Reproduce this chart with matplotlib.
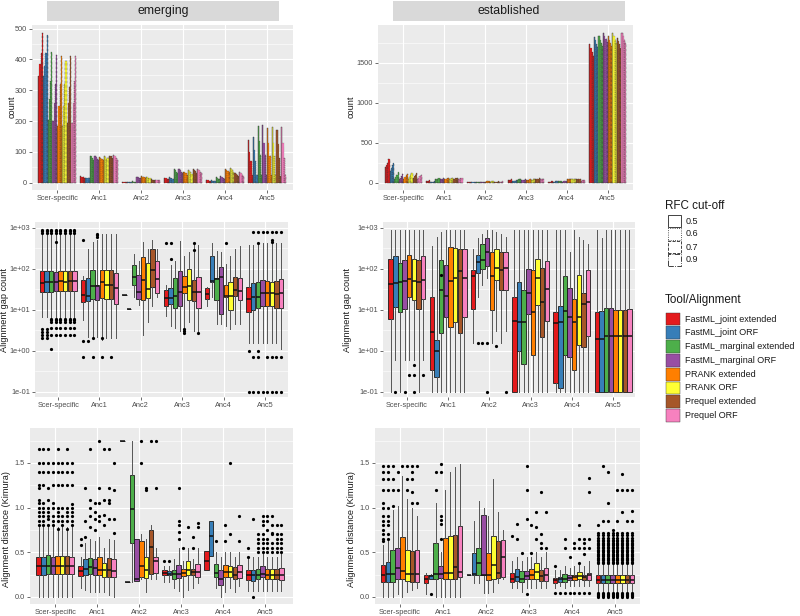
import matplotlib
matplotlib.use('Agg')
import matplotlib.pyplot as plt
from matplotlib.patches import Rectangle
from matplotlib.ticker import NullFormatter

plt.rcParams['font.family'] = ['Liberation Sans', 'DejaVu Sans']

# ---------------- data ----------------
CATEGORIES = ['Scer-specific', 'Anc1', 'Anc2', 'Anc3', 'Anc4', 'Anc5']
TOOLS = ['FastML_joint extended', 'FastML_joint ORF', 'FastML_marginal extended',
         'FastML_marginal ORF', 'PRANK extended', 'PRANK ORF',
         'Prequel extended', 'Prequel ORF']
TOOL_COLORS = ['#E41A1C', '#377EB8', '#4DAF4A', '#984EA3',
               '#FF7F00', '#FFFF33', '#A65628', '#F781BF']
CUTOFFS = ['0.5', '0.6', '0.7', '0.9']
CUTOFF_STYLES = ['-', ':', '--', '-.']
PANELS = ['emerging', 'established']

# counts [category][tool][cutoff]
EM_COUNT = [
    [[345, 385, 420, 485], [345, 380, 420, 480], [205, 270, 330, 425], [200, 260, 320, 415],
     [185, 250, 320, 410], [185, 250, 320, 395], [195, 260, 310, 410], [195, 260, 330, 410]],
    [[20, 18, 17, 16], [16, 15, 15, 14], [88, 85, 80, 75], [88, 82, 78, 72],
     [82, 80, 77, 72], [85, 82, 78, 80], [88, 88, 85, 80], [90, 85, 80, 75]],
    [[2, 2, 1, 1], [3, 2, 2, 2], [4, 3, 3, 3], [18, 17, 15, 14],
     [20, 19, 18, 16], [18, 17, 16, 14], [12, 10, 9, 8], [10, 9, 8, 7]],
    [[15, 14, 13, 12], [18, 16, 15, 13], [44, 40, 35, 30], [44, 40, 36, 32],
     [36, 33, 30, 26], [40, 37, 33, 29], [45, 42, 38, 32], [44, 40, 36, 30]],
    [[8, 7, 6, 5], [7, 6, 5, 4], [17, 15, 13, 11], [22, 18, 15, 12],
     [45, 42, 38, 35], [48, 44, 40, 36], [30, 27, 24, 20], [35, 30, 25, 20]],
    [[140, 100, 70, 25], [147, 105, 70, 25], [185, 135, 90, 25], [186, 130, 90, 25],
     [178, 130, 85, 25], [182, 130, 85, 25], [172, 125, 80, 22], [182, 130, 80, 25]],
]
ES_COUNT = [
    [[190, 220, 250, 290], [140, 180, 220, 245], [50, 75, 100, 130], [40, 60, 85, 105],
     [50, 70, 90, 110], [50, 72, 95, 115], [55, 80, 100, 120], [40, 60, 80, 100]],
    [[20, 22, 25, 30], [8, 10, 12, 15], [40, 45, 50, 55], [40, 45, 48, 52],
     [45, 48, 52, 56], [45, 50, 55, 58], [48, 52, 58, 62], [45, 48, 52, 55]],
    [[5, 5, 5, 5], [5, 5, 5, 4], [8, 8, 8, 8], [10, 10, 10, 10],
     [12, 13, 14, 15], [12, 13, 14, 15], [10, 11, 12, 13], [10, 11, 12, 13]],
    [[30, 32, 35, 38], [20, 22, 25, 28], [35, 38, 40, 42], [30, 32, 35, 38],
     [30, 33, 36, 40], [32, 35, 38, 42], [45, 48, 50, 55], [40, 42, 45, 48]],
    [[10, 12, 14, 15], [10, 12, 13, 14], [15, 17, 18, 20], [12, 14, 15, 17],
     [40, 42, 45, 48], [40, 42, 44, 46], [38, 40, 42, 44], [25, 27, 28, 30]],
    [[1740, 1690, 1640, 1590], [1820, 1780, 1740, 1700], [1830, 1790, 1750, 1710], [1880, 1840, 1800, 1760],
     [1830, 1790, 1750, 1710], [1870, 1830, 1790, 1750], [1810, 1770, 1730, 1690], [1870, 1830, 1790, 1750]],
]

# ---- alignment gap count, emerging [category][tool] ----
EM_GAP_Q1 = [[27, 27, 27, 28, 28, 28, 28, 28], [15, 16, 18, 17, 19, 18, 18, 14],
             [23, 10.5, 40, 18, 17, 19, 35, 26], [12, 14, 11, 12, 25, 17, 16, 11],
             [18, 48, 17, 8, 20, 10, 22, 17], [9, 10, 11, 12, 12, 12, 11, 11]]
EM_GAP_MED = [[45, 47, 48, 48, 50, 48, 49, 50], [23, 21, 38, 38, 47, 40, 40, 33],
              [23, 10.5, 63, 27, 53, 32, 95, 55], [19, 19, 22, 27, 35, 38, 27, 27],
              [24, 50, 55, 62, 22, 21, 30, 29], [18, 20, 20, 25, 25, 25, 24, 26]]
EM_GAP_Q3 = [[88, 88, 88, 85, 88, 88, 88, 88], [52, 60, 93, 40, 93, 93, 93, 77],
             [23, 10.5, 123, 70, 190, 135, 300, 155], [30, 33, 58, 88, 66, 100, 52, 62],
             [33, 200, 58, 110, 40, 48, 64, 58], [35, 46, 48, 53, 50, 48, 50, 55]]
EM_GAP_LO = [[6.5, 6.5, 6.5, 6.5, 6.5, 6.5, 6.5, 6.5], [5.5, 2.2, 2.2, 2.2, 1.8, 2, 2, 2],
             [23, 10.5, 20, 13, 2.4, 5, 12, 20], [7, 4, 3.5, 3, 3.5, 5, 3, 3],
             [12, 20, 4.5, 4.5, 4, 3.3, 4.5, 4.5], [1.5, 1.5, 1.5, 1.5, 1.5, 1.5, 1.5, 1.1]]
EM_GAP_HI = [[700, 700, 700, 700, 700, 700, 700, 700], [65, 300, 450, 500, 700, 700, 700, 700],
             [23, 10.5, 230, 150, 450, 300, 500, 300], [40, 120, 150, 470, 200, 250, 430, 380],
             [35, 430, 270, 260, 130, 200, 300, 350], [380, 380, 450, 420, 420, 420, 420, 420]]
EM_GAP_FLIERS = [
    [[2.0, 2.4, 2.9, 3.4, 760, 830, 900], [2.0, 2.4, 2.9, 3.4, 760, 830, 900],
     [1.1, 2.4, 3.5, 5, 5.5, 6, 760, 830, 900], [2.4, 3.5, 5, 5.5, 6, 450, 760, 830, 900],
     [2.4, 3.5, 5, 5.5, 6, 760, 830, 900], [2.4, 3.5, 5, 5.5, 6, 760, 830, 900],
     [2.4, 3.5, 5, 5.5, 6, 760, 830, 900], [2.4, 3.5, 5, 5.5, 6, 760, 830, 900]],
    [[0.7, 1.7, 500], [1.7], [0.7, 2.0], [600, 650, 700], [0.7, 2.0], [], [0.7], []],
    [[], [], [], [], [], [], [], []],
    [[430], [430, 170], [], [], [2.7, 3.0, 3.3], [], [430, 280], [2.7]],
    [[], [], [], [], [430], [], [], []],
    [[1.0, 0.1], [0.7, 0.1, 800], [800, 420, 1.0, 0.7, 0.1], [800, 0.1], [800, 0.7, 0.1],
     [800, 500, 450, 0.7, 0.1], [800, 0.7, 0.1], [800, 0.7, 0.1]],
]

# ---- alignment gap count, established ----
ES_GAP_Q1 = [[5.8, 11.5, 8.6, 10.5, 20, 17, 10.5, 18], [0.34, 0.23, 2.7, 6.5, 3.8, 5, 2.7, 6.5],
             [10.5, 80, 100, 115, 10, 52, 30, 30], [0.1, 1.0, 0.47, 7.8, 0.8, 13, 2.2, 5.3],
             [0.16, 0.12, 0.8, 0.72, 0.33, 1.4, 1.2, 2.3], [0.1, 0.1, 0.1, 0.1, 0.1, 0.1, 0.1, 0.1]]
ES_GAP_MED = [[42, 45, 47, 50, 57, 50, 47, 52], [2.8, 1.0, 30, 22, 50, 58, 90, 58],
              [65, 145, 160, 250, 65, 105, 95, 105], [5.3, 5, 5, 25, 9, 58, 15.5, 32],
              [4.8, 5, 9.3, 6.7, 5, 6.7, 13.5, 15.5], [1.9, 1.9, 2.3, 2.3, 2.3, 2.3, 2.3, 2.3]]
ES_GAP_Q3 = [[170, 210, 135, 165, 220, 175, 160, 210], [20, 1.8, 165, 123, 330, 320, 310, 310],
             [95, 220, 400, 560, 260, 300, 250, 250], [20, 47, 31, 98, 93, 175, 105, 150],
             [8.6, 12, 66, 34, 18, 72, 26, 92], [8.9, 9.5, 10.8, 11, 10, 10, 10, 10.5]]
ES_GAP_LO = [[0.1, 0.6, 0.1, 0.6, 0.6, 0.6, 0.1, 0.6], [0.1, 0.1, 0.1, 0.1, 0.1, 0.1, 0.1, 0.1],
             [1.5, 20, 40, 60, 1.5, 3, 1.5, 3], [0.1, 0.1, 0.1, 0.1, 0.1, 0.1, 0.1, 0.1],
             [0.1, 0.1, 0.1, 0.1, 0.1, 0.1, 0.1, 0.1], [0.1, 0.1, 0.1, 0.1, 0.1, 0.1, 0.1, 0.1]]
ES_GAP_HI = [[900, 900, 900, 900, 900, 900, 900, 900], [350, 600, 800, 900, 900, 900, 900, 900],
             [300, 550, 700, 900, 900, 800, 700, 600], [900, 900, 900, 900, 900, 900, 900, 900],
             [900, 900, 900, 250, 900, 600, 500, 400], [900, 550, 900, 900, 900, 900, 900, 900]]
ES_GAP_FLIERS = [
    [[], [0.1], [], [0.1], [0.25], [0.25, 0.45, 0.1], [], [0.25]],
    [[], [], [70], [], [], [], [], []],
    [[], [1.5], [1.5], [1.5, 0.1], [], [1.3], [], [0.1]],
    [[], [], [], [], [], [], [], []],
    [[], [], [], [], [], [], [], []],
    [[], [], [], [], [], [], [], []],
]

# ---- alignment distance, emerging ----
EM_DIST_Q1 = [[0.25, 0.25, 0.26, 0.26, 0.26, 0.26, 0.26, 0.26], [0.23, 0.25, 0.26, 0.24, 0.24, 0.22, 0.22, 0.22],
              [1.74, 0.17, 0.6, 0.18, 0.22, 0.21, 0.26, 0.27], [0.24, 0.24, 0.2, 0.21, 0.23, 0.24, 0.24, 0.22],
              [0.3, 0.46, 0.22, 0.13, 0.22, 0.22, 0.2, 0.21], [0.19, 0.18, 0.2, 0.22, 0.2, 0.2, 0.2, 0.19]]
EM_DIST_MED = [[0.34, 0.34, 0.34, 0.34, 0.35, 0.35, 0.35, 0.34], [0.29, 0.31, 0.33, 0.32, 0.30, 0.30, 0.30, 0.29],
               [1.74, 0.17, 0.98, 0.2, 0.35, 0.3, 0.56, 0.4], [0.27, 0.26, 0.26, 0.26, 0.27, 0.3, 0.28, 0.28],
               [0.4, 0.68, 0.27, 0.2, 0.28, 0.28, 0.25, 0.28], [0.24, 0.24, 0.25, 0.26, 0.25, 0.25, 0.25, 0.25]]
EM_DIST_Q3 = [[0.45, 0.45, 0.47, 0.45, 0.46, 0.46, 0.46, 0.45], [0.34, 0.42, 0.44, 0.42, 0.45, 0.38, 0.43, 0.42],
              [1.74, 0.17, 1.36, 0.65, 0.63, 0.45, 0.75, 0.45], [0.3, 0.29, 0.3, 0.36, 0.31, 0.4, 0.31, 0.37],
              [0.51, 0.85, 0.37, 0.3, 0.36, 0.35, 0.33, 0.36], [0.3, 0.3, 0.31, 0.34, 0.31, 0.31, 0.31, 0.32]]
EM_DIST_LO = [[0.0, 0.0, 0.0, 0.0, 0.0, 0.0, 0.0, 0.0], [0.1, 0.08, 0.05, 0.05, 0.05, 0.05, 0.02, 0.0],
              [1.74, 0.17, 0.17, 0.18, 0.2, 0.05, 0.2, 0.2], [0.17, 0.17, 0.1, 0.07, 0.0, 0.08, 0.1, 0.15],
              [0.3, 0.46, 0.1, 0.0, 0.05, 0.1, 0.05, 0.12], [0.07, 0.07, 0.07, 0.07, 0.07, 0.07, 0.07, 0.07]]
EM_DIST_HI = [[0.78, 0.78, 0.78, 0.78, 0.78, 0.78, 0.78, 0.78], [0.45, 0.6, 0.65, 0.62, 0.67, 0.55, 0.65, 0.64],
              [1.74, 0.17, 1.74, 0.65, 0.7, 0.65, 0.8, 0.55], [0.35, 0.35, 0.42, 0.55, 0.4, 0.55, 0.42, 0.55],
              [0.51, 0.85, 0.5, 0.45, 0.5, 0.5, 0.45, 0.5], [0.45, 0.45, 0.45, 0.5, 0.45, 0.45, 0.45, 0.5]]
EM_DIST_FLIERS = [
    [[0.8, 0.85, 0.9, 0.95, 1.0, 1.05, 1.08, 1.22, 1.25, 1.4, 1.5, 1.65],
     [0.8, 0.85, 0.9, 0.95, 1.0, 1.05, 1.25, 1.4, 1.5, 1.65],
     [0.8, 0.87, 0.9, 0.95, 1.0, 1.08, 1.22, 1.4, 1.5, 1.65],
     [0.8, 0.85, 0.9, 1.0, 1.05, 1.25, 1.4, 1.5],
     [0.76, 0.85, 0.9, 0.95, 1.0, 1.25, 1.4, 1.5, 1.65],
     [0.8, 0.85, 0.9, 1.0, 1.25, 1.4, 1.5],
     [0.76, 0.85, 0.9, 0.95, 1.0, 1.25, 1.4, 1.5, 1.65],
     [0.8, 0.85, 0.9, 0.95, 1.0, 1.04, 1.25, 1.4, 1.5]],
    [[0.58, 0.65], [0.67, 0.85, 1.22], [0.78, 0.9, 1.0, 1.08, 1.65], [0.75, 0.87, 0.95, 1.05],
     [0.85, 0.9, 1.05, 1.22, 1.74], [0.8, 0.92, 1.08, 1.65], [0.87, 1.05, 1.08, 1.22, 1.65],
     [0.72, 0.87, 1.2, 1.5]],
    [[], [], [], [], [1.5, 1.74], [1.2, 1.22], [1.74], [1.74, 1.22]],
    [[0.4], [0.4], [], [0.65, 0.73, 0.8, 0.85, 1.22], [0.55], [0.78], [0.55, 0.67], [0.78, 0.83]],
    [[], [], [0.63], [], [0.63, 0.8], [0.7, 1.5], [], [0.9, 0.63]],
    [[0.45, 0.55], [0.0, 0.87], [0.5, 0.55, 0.6, 0.65, 0.7], [0.5, 0.55, 0.6, 0.65, 0.7, 0.8, 0.85, 0.9],
     [0.5, 0.55, 0.6, 0.65, 0.75, 0.85, 0.9], [0.5, 0.55, 0.6, 0.7, 0.72, 0.8, 0.9],
     [0.5, 0.55, 0.6, 0.65, 0.7, 0.8], [0.5, 0.55, 0.6, 0.65, 0.7, 0.8]],
]

# ---- alignment distance, established ----
ES_DIST_Q1 = [[0.17, 0.17, 0.17, 0.2, 0.2, 0.18, 0.17, 0.17], [0.15, 0.2, 0.2, 0.21, 0.2, 0.2, 0.2, 0.22],
              [0.25, 0.25, 0.24, 0.24, 0.19, 0.2, 0.21, 0.22], [0.17, 0.18, 0.17, 0.2, 0.2, 0.2, 0.18, 0.18],
              [0.15, 0.17, 0.17, 0.19, 0.19, 0.2, 0.19, 0.19], [0.16, 0.16, 0.16, 0.16, 0.16, 0.16, 0.16, 0.16]]
ES_DIST_MED = [[0.25, 0.26, 0.26, 0.32, 0.29, 0.26, 0.26, 0.26], [0.2, 0.23, 0.26, 0.26, 0.27, 0.27, 0.33, 0.28],
               [0.25, 0.26, 0.38, 0.24, 0.24, 0.36, 0.27, 0.45], [0.2, 0.22, 0.2, 0.23, 0.25, 0.28, 0.23, 0.25],
               [0.19, 0.2, 0.2, 0.21, 0.22, 0.23, 0.22, 0.24], [0.19, 0.19, 0.19, 0.19, 0.19, 0.19, 0.19, 0.19]]
ES_DIST_Q3 = [[0.36, 0.39, 0.52, 0.55, 0.67, 0.53, 0.51, 0.52], [0.24, 0.24, 0.6, 0.35, 0.66, 0.68, 0.69, 0.79],
              [0.25, 0.49, 0.55, 0.92, 0.49, 0.68, 0.62, 0.64], [0.27, 0.31, 0.29, 0.29, 0.31, 0.38, 0.3, 0.32],
              [0.21, 0.22, 0.26, 0.24, 0.25, 0.28, 0.25, 0.27], [0.24, 0.24, 0.24, 0.24, 0.24, 0.24, 0.24, 0.24]]
ES_DIST_LO = [[0.0, 0.0, 0.0, 0.03, 0.0, 0.05, 0.08, 0.1], [0.03, 0.2, 0.0, 0.0, 0.0, 0.0, 0.0, 0.0],
              [0.25, 0.15, 0.15, 0.04, 0.04, 0.05, 0.15, 0.2], [0.1, 0.1, 0.05, 0.1, 0.1, 0.1, 0.1, 0.1],
              [0.1, 0.12, 0.1, 0.12, 0.12, 0.12, 0.12, 0.12], [0.06, 0.06, 0.06, 0.06, 0.06, 0.06, 0.06, 0.06]]
ES_DIST_HI = [[0.58, 0.65, 0.97, 1.02, 1.35, 1.1, 1.0, 0.9], [0.27, 0.26, 1.05, 0.5, 1.2, 1.4, 1.45, 1.49],
              [0.25, 0.85, 1.07, 1.0, 0.9, 1.32, 0.95, 0.75], [0.4, 0.45, 0.4, 0.45, 0.45, 0.5, 0.45, 0.5],
              [0.3, 0.3, 0.35, 0.32, 0.35, 0.38, 0.35, 0.4], [0.36, 0.36, 0.36, 0.36, 0.36, 0.36, 0.36, 0.36]]
ES_A5_LOW = [0.0, 0.012, 0.024, 0.036, 0.048]
ES_A5_HIGH = [0.38, 0.395, 0.41, 0.425, 0.44, 0.455, 0.47, 0.485, 0.5, 0.515, 0.53, 0.545,
              0.56, 0.575, 0.59, 0.605, 0.62, 0.64, 0.66, 0.69, 0.71]
ES_A5_EXTRA = [[0.8], [0.85, 1.47], [0.85, 1.05, 1.4], [0.75], [0.85, 1.2], [0.95, 1.2, 1.37], [0.85, 1.2], [0.85, 0.96, 1.2]]
ES_DIST_FLIERS = [
    [[0.62, 0.65, 0.7, 0.75, 0.8, 0.85, 0.9, 1.0, 1.05, 1.2, 1.32, 1.4, 1.47],
     [0.65, 0.7, 0.8, 0.85, 0.9, 1.0, 1.2, 1.32, 1.4, 1.47],
     [1.02, 1.2, 1.32, 1.47], [1.2, 1.4], [1.47], [1.2, 1.32, 1.47],
     [1.05, 1.17, 1.32, 1.4, 1.47], [1.05, 1.47]],
    [[], [0.03], [1.2, 1.4], [0.65, 0.82, 0.86, 0.9, 1.4, 1.49], [], [], [], []],
    [[], [], [], [], [], [], [], []],
    [[0.68], [0.65, 0.82], [0.49], [0.87, 1.2, 1.47, 0.03], [0.49, 0.8], [0.65, 0.78, 0.95],
     [0.55, 0.6, 0.7, 1.17], [0.55, 0.95]],
    [[0.04, 0.34], [0.04], [0.04, 0.55, 0.65], [0.04, 0.45], [0.04, 0.55, 0.6], [0.04, 0.38, 0.55, 0.65, 0.8],
     [0.04, 0.48, 0.55, 0.6, 0.65], [0.04, 0.55, 0.65, 1.17, 1.33]],
    [ES_A5_LOW + ES_A5_HIGH + extra for extra in ES_A5_EXTRA],
]

# ---------------- drawing ----------------
W, H = 800, 616
fig = plt.figure(figsize=(W / 100, H / 100), dpi=100)
fig.patch.set_facecolor('white')

TICK_COLOR = '#4D4D4D'
NCAT = len(CATEGORIES)


def fx(x):
    return x / W


def fy(y):
    return 1 - y / H


def add_ax(x0, y0, x1, y1):
    return fig.add_axes([fx(x0), fy(y1), (x1 - x0) / W, (y1 - y0) / H])


def style_ax(ax, xlim, ylim, majors, minors, labels, log=False):
    ax.set_facecolor('#EBEBEB')
    for s in ax.spines.values():
        s.set_visible(False)
    if log:
        ax.set_yscale('log')
    ax.set_xlim(*xlim)
    ax.set_ylim(*ylim)
    ax.set_xticks(range(1, NCAT + 1))
    ax.set_xticklabels(CATEGORIES)
    ax.set_yticks(majors)
    ax.set_yticklabels(labels)
    ax.set_yticks(minors, minor=True)
    ax.yaxis.set_minor_formatter(NullFormatter())
    ax.tick_params(axis='both', which='major', labelsize=5.3, colors='#333333',
                   labelcolor=TICK_COLOR, length=2.2, width=0.5, pad=1.5)
    ax.tick_params(axis='y', which='minor', length=0)
    ax.tick_params(axis='x', which='minor', length=0)
    ax.grid(True, which='major', color='white', linewidth=0.8)
    ax.grid(True, which='minor', axis='y', color='white', linewidth=0.4)
    ax.set_axisbelow(True)


def draw_bars(ax, counts):
    n = len(TOOLS) * len(CUTOFFS)
    w = 0.9 / n
    for ti in range(len(TOOLS)):
        for ki in range(len(CUTOFFS)):
            idx = ti * len(CUTOFFS) + ki
            xs = [ci + 1 + (idx - (n - 1) / 2) * w for ci in range(NCAT)]
            hs = [counts[ci][ti][ki] for ci in range(NCAT)]
            ax.bar(xs, hs, width=w, color=TOOL_COLORS[ti], edgecolor='#333333',
                   linewidth=0.3, linestyle=CUTOFF_STYLES[ki])


def draw_boxes(ax, q1, med, q3, lo, hi, fliers):
    n = len(TOOLS)
    w = 0.9 / n
    for ti in range(n):
        stats, pos = [], []
        for ci in range(NCAT):
            stats.append(dict(q1=q1[ci][ti], med=med[ci][ti], q3=q3[ci][ti],
                              whislo=lo[ci][ti], whishi=hi[ci][ti], fliers=fliers[ci][ti]))
            pos.append(ci + 1 + (ti - (n - 1) / 2) * w)
        ax.bxp(stats, positions=pos, widths=w * 0.95, patch_artist=True, showcaps=False,
               manage_ticks=False,
               boxprops=dict(facecolor=TOOL_COLORS[ti], edgecolor='#1A1A1A', linewidth=0.6),
               medianprops=dict(color='#111111', linewidth=1.1),
               whiskerprops=dict(color='#555555', linewidth=0.7),
               flierprops=dict(marker='o', markerfacecolor='black', markeredgecolor='none',
                               markersize=2.3))


# strips
for (x0, x1), label in zip([(47, 279), (393, 625)], PANELS):
    fig.patches.append(Rectangle((fx(x0), fy(21)), (x1 - x0) / W, 20 / H,
                                 transform=fig.transFigure, facecolor='#D9D9D9',
                                 edgecolor='none'))
    fig.text(fx((x0 + x1) / 2), fy(11), label, ha='center', va='center',
             fontsize=8.8, color='#1A1A1A')

# top row: counts
ax = add_ax(32, 25, 293, 190)
style_ax(ax, (0.4, 6.62), (-24, 512), [0, 100, 200, 300, 400, 500],
         [50, 150, 250, 350, 450], ['0', '100', '200', '300', '400', '500'])
draw_bars(ax, EM_COUNT)

ax = add_ax(378, 25, 633, 190)
style_ax(ax, (0.38, 6.62), (-94, 1974), [0, 500, 1000, 1500],
         [250, 750, 1250, 1750], ['0', '500', '1000', '1500'])
draw_bars(ax, ES_COUNT)

# middle row: gap counts (log)
log_major = [0.1, 1, 10, 100, 1000]
log_minor = [0.316, 3.16, 31.6, 316]
log_labels = ['1e-01', '1e+00', '1e+01', '1e+02', '1e+03']

ax = add_ax(35, 222, 288, 397)
style_ax(ax, (0.44, 6.56), (0.074, 1380), log_major, log_minor, log_labels, log=True)
draw_boxes(ax, EM_GAP_Q1, EM_GAP_MED, EM_GAP_Q3, EM_GAP_LO, EM_GAP_HI, EM_GAP_FLIERS)

ax = add_ax(383, 222, 635, 397)
style_ax(ax, (0.42, 6.53), (0.074, 1380), log_major, log_minor, log_labels, log=True)
draw_boxes(ax, ES_GAP_Q1, ES_GAP_MED, ES_GAP_Q3, ES_GAP_LO, ES_GAP_HI, ES_GAP_FLIERS)

# bottom row: distances
dist_major = [0, 0.5, 1.0, 1.5]
dist_minor = [0.25, 0.75, 1.25, 1.75]
dist_labels = ['0.0', '0.5', '1.0', '1.5']

ax = add_ax(30, 428, 293, 604)
style_ax(ax, (0.4, 6.67), (-0.08, 1.89), dist_major, dist_minor, dist_labels)
draw_boxes(ax, EM_DIST_Q1, EM_DIST_MED, EM_DIST_Q3, EM_DIST_LO, EM_DIST_HI, EM_DIST_FLIERS)

ax = add_ax(375, 428, 640, 604)
style_ax(ax, (0.42, 6.58), (-0.08, 1.89), dist_major, dist_minor, dist_labels)
draw_boxes(ax, ES_DIST_Q1, ES_DIST_MED, ES_DIST_Q3, ES_DIST_LO, ES_DIST_HI, ES_DIST_FLIERS)

# y labels
ylab = dict(rotation=90, ha='center', va='center', fontsize=6.6, color='#1A1A1A')
fig.text(fx(12), fy(107), 'count', **ylab)
fig.text(fx(351), fy(107), 'count', **ylab)
fig.text(fx(5), fy(310), 'Alignment gap count', **ylab)
fig.text(fx(348), fy(310), 'Alignment gap count', **ylab)
fig.text(fx(6.5), fy(529), 'Alignment distance (Kimura)', **ylab)
fig.text(fx(351), fy(529), 'Alignment distance (Kimura)', **ylab)

# legend: RFC cut-off
fig.text(fx(665), fy(206), 'RFC cut-off', ha='left', va='center', fontsize=8.4, color='#1A1A1A')
for i, (lab, ls) in enumerate(zip(CUTOFFS, CUTOFF_STYLES)):
    yc = 221 + i * 13
    fig.patches.append(Rectangle((fx(667.5), fy(yc + 6)), 13 / W, 12 / H,
                                 transform=fig.transFigure, facecolor='white',
                                 edgecolor='#222222', linewidth=0.6, linestyle=ls))
    fig.text(fx(686), fy(yc), lab, ha='left', va='center', fontsize=6.5, color='#1A1A1A')

# legend: Tool/Alignment
fig.text(fx(665), fy(300), 'Tool/Alignment', ha='left', va='center', fontsize=8.4, color='#1A1A1A')
for i, (lab, col) in enumerate(zip(TOOLS, TOOL_COLORS)):
    yc = 319 + i * 13.8
    fig.patches.append(Rectangle((fx(665.5), fy(yc + 6.4)), 14 / W, 12.8 / H,
                                 transform=fig.transFigure, facecolor=col,
                                 edgecolor='#333333', linewidth=0.3))
    fig.text(fx(685), fy(yc), lab, ha='left', va='center', fontsize=6.5, color='#1A1A1A')

fig.savefig('out.png', dpi=100, facecolor='white')
